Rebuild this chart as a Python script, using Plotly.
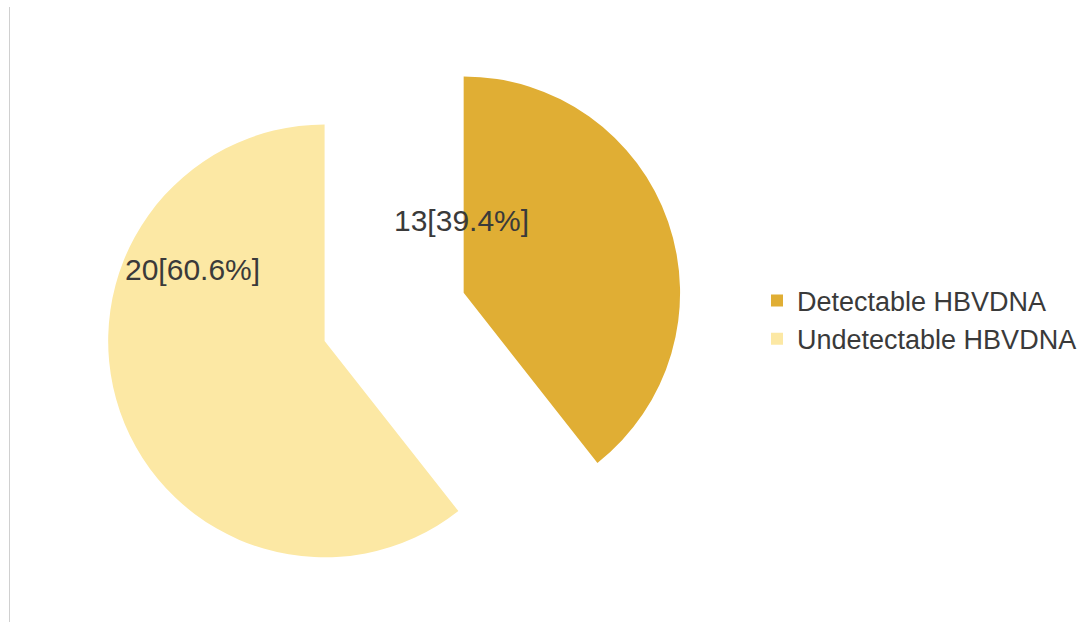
import plotly.graph_objects as go

labels = ["Detectable HBVDNA", "Undetectable HBVDNA"]
counts = [13, 20]
colors = ["#E0AE34", "#FCE8A4"]
pulls = [0.34, 0.34]

total = sum(counts)
texts = [f"{c}[{c / total * 100:.1f}%]" for c in counts]

fig = go.Figure(go.Pie(
    labels=labels,
    values=counts,
    sort=False,
    direction="clockwise",
    rotation=0,
    pull=pulls,
    marker=dict(colors=colors, line=dict(width=0)),
    textinfo="none",
    hoverinfo="label+value+percent",
    domain=dict(x=[0.0955, 0.631], y=[0.029, 0.957]),
))

# data labels placed where the reference shows them
label_pos = [(461 / 1085, 1 - 220 / 625), (192 / 1085, 1 - 270 / 625)]
for t, (px, py) in zip(texts, label_pos):
    fig.add_annotation(x=px, y=py, xref="paper", yref="paper", text=t,
                       showarrow=False, xanchor="center", yanchor="middle",
                       font=dict(family="Liberation Sans", size=30, color="#3A3A3A"))

fig.add_shape(type="line", xref="paper", yref="paper",
              x0=9.5 / 1085, x1=9.5 / 1085, y0=1 - 7 / 625, y1=1 - 622 / 625,
              line=dict(color="#D0D0D0", width=1))

fig.update_layout(
    width=1085, height=625,
    margin=dict(l=0, r=0, t=0, b=0),
    paper_bgcolor="white", plot_bgcolor="white",
    showlegend=True,
    legend=dict(x=757 / 1085, y=1 - 320 / 625, xanchor="left", yanchor="middle",
                font=dict(family="Liberation Sans", size=27, color="#3A3A3A"),
                bgcolor="rgba(0,0,0,0)", itemclick=False),
)

fig.write_html("out.html")
